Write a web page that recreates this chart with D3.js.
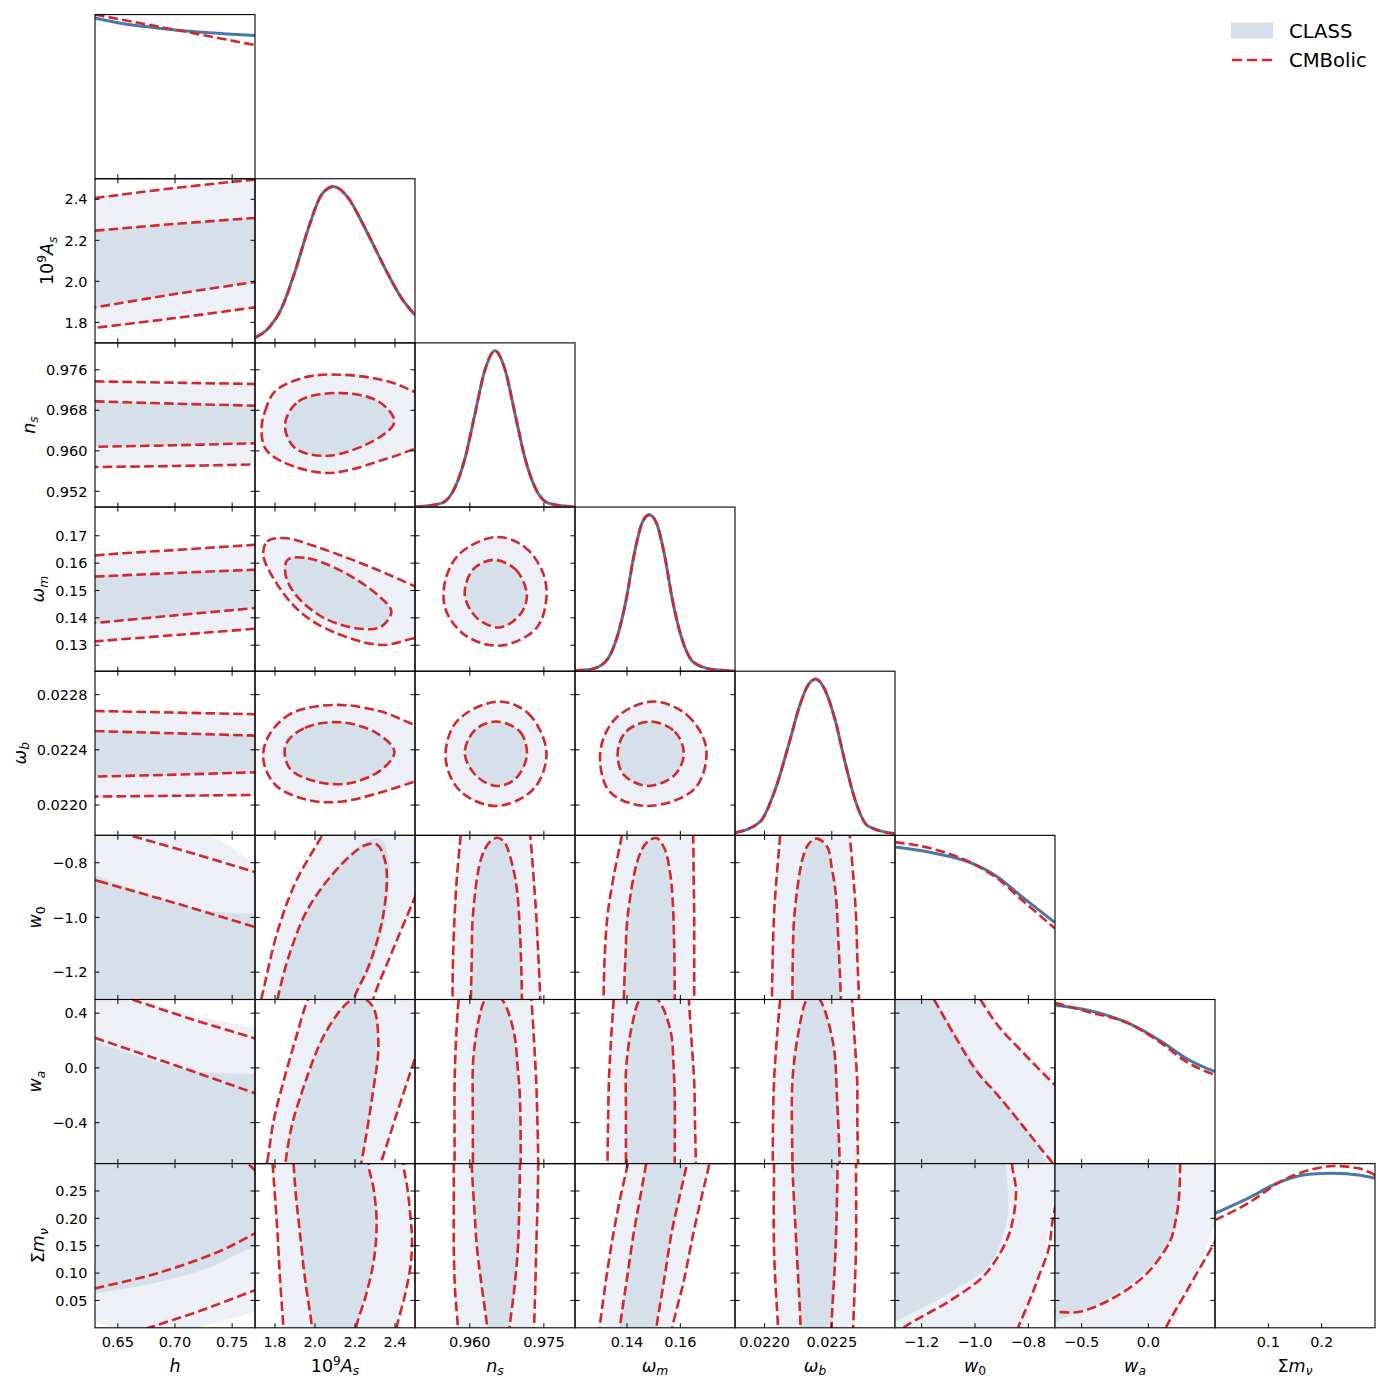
<!DOCTYPE html>
<html><head><meta charset="utf-8">
<script src="https://cdn.jsdelivr.net/npm/d3@7"></script>
<style>body{margin:0;background:#fff}</style>
</head><body>
<script>
// ---------------- DATA ----------------
const paramKeys = ["h","As","ns","omm","omb","w0","wa","mnu"];
const ranges = [[0.63,0.77],[1.7,2.5],[0.9489,0.9813],[0.1205,0.1805],[0.02178,0.02297],[-1.3,-0.7],[-0.7,0.5],[0,0.3]];
const xTicks = [[0.65,0.70,0.75],[1.8,2.0,2.2,2.4],[0.960,0.975],[0.14,0.16],[0.0220,0.0225],[-1.2,-1.0,-0.8],[-0.5,0.0],[0.1,0.2]];
const xTickLabels = [["0.65","0.70","0.75"],["1.8","2.0","2.2","2.4"],["0.960","0.975"],["0.14","0.16"],["0.0220","0.0225"],["\u22121.2","\u22121.0","\u22120.8"],["\u22120.5","0.0"],["0.1","0.2"]];
const yTicks = [[],[1.8,2.0,2.2,2.4],[0.952,0.960,0.968,0.976],[0.13,0.14,0.15,0.16,0.17],[0.0220,0.0224,0.0228],[-1.2,-1.0,-0.8],[-0.4,0.0,0.4],[0.05,0.10,0.15,0.20,0.25]];
const yTickLabels = [[],["1.8","2.0","2.2","2.4"],["0.952","0.960","0.968","0.976"],["0.13","0.14","0.15","0.16","0.17"],["0.0220","0.0224","0.0228"],["\u22121.2","\u22121.0","\u22120.8"],["\u22120.4","0.0","0.4"],["0.05","0.10","0.15","0.20","0.25"]];
const axisLabels = [
  [["h","i"]],
  [["10",""],["9","sup"],["A","i"],["s","isub"]],
  [["n","i"],["s","isub"]],
  [["\u03c9","i"],["m","isub"]],
  [["\u03c9","i"],["b","isub"]],
  [["w","i"],["0","sub"]],
  [["w","i"],["a","isub"]],
  [["\u03a3",""],["m","i"],["\u03bd","isub"]]
];
const legendLabels = ["CLASS","CMBolic"];

// 1D marginals (x values, normalised density)
const h_x = [0.63,0.6548,0.684,0.7131,0.7423,0.77];
const h_class = [1.029,0.992,0.965,0.943,0.928,0.916];
const h_cmb = [1.050,1.016,0.975,0.935,0.894,0.855];
const As_x = [1.7,1.767,1.833,1.90,1.967,2.033,2.092,2.167,2.233,2.30,2.367,2.433,2.5];
const As_p = [0.034,0.094,0.222,0.457,0.734,0.948,1.0,0.926,0.777,0.606,0.435,0.286,0.179];
const ns_x = [0.9489,0.9543,0.9570,0.95903,0.96105,0.96308,0.9651,0.96713,0.96915,0.97118,0.9732,0.9759,0.9813];
const ns_p = [0.0,0.025,0.126,0.312,0.597,0.879,1.0,0.879,0.597,0.312,0.126,0.025,0.0];
const om_x = [0.1205,0.1266,0.1319,0.1365,0.1396,0.1426,0.1457,0.1483,0.1510,0.1541,0.1571,0.1602,0.1648,0.1716,0.1805];
const om_p = [0.004,0.013,0.06,0.23,0.45,0.74,0.95,1.0,0.95,0.74,0.45,0.23,0.06,0.013,0.002];
const ob_x = [0.02178,0.021966,0.022078,0.022189,0.022263,0.022323,0.022382,0.022449,0.022524,0.022598,0.022672,0.022769,0.02297];
const ob_p = [0.017,0.086,0.29,0.61,0.835,0.96,1.0,0.93,0.74,0.47,0.23,0.06,0.01];
const w0_x = [-1.3,-1.1615,-1.0077,-0.9154,-0.8231,-0.7];
const w0_class = [0.975,0.939,0.869,0.784,0.656,0.492];
const w0_cmb = [1.007,0.965,0.869,0.773,0.635,0.454];
const wa_x = [-0.7,-0.4538,-0.1462,0.1,0.2846,0.5];
const wa_class = [1.014,0.982,0.897,0.780,0.673,0.588];
const wa_cmb = [1.029,0.971,0.897,0.769,0.652,0.567];
const mnu_x = [0,0.0615,0.1231,0.1769,0.2231,0.2692,0.3];
const mnu_class = [0.732,0.828,0.935,0.982,0.988,0.977,0.956];
const mnu_cmb = [0.689,0.796,0.935,1.009,1.035,1.02,0.977];

// 2D contours [x, y] in data units (95% and 68%)
const As_h_95 = [[0.60,2.385],[0.63,2.406],[0.70,2.455],[0.77,2.496],[0.80,2.51],[0.80,1.895],[0.77,1.873],[0.70,1.821],[0.63,1.773],[0.60,1.752]];
const As_h_68 = [[0.60,2.233],[0.63,2.247],[0.70,2.28],[0.77,2.309],[0.80,2.321],[0.80,2.022],[0.77,1.997],[0.70,1.938],[0.63,1.873],[0.60,1.845]];
const ns_h_95 = [[0.60,0.9738],[0.63,0.9737],[0.70,0.97345],[0.77,0.97319],[0.80,0.9731],[0.80,0.9574],[0.77,0.9573],[0.70,0.9570],[0.63,0.9568],[0.60,0.9567]];
const ns_h_68 = [[0.60,0.9699],[0.63,0.96975],[0.70,0.9693],[0.77,0.9689],[0.80,0.9687],[0.80,0.9617],[0.77,0.9615],[0.70,0.9611],[0.63,0.9608],[0.60,0.9607]];
const om_h_95 = [[0.60,0.1612],[0.63,0.1628],[0.70,0.1648],[0.77,0.1667],[0.80,0.1675],[0.80,0.1370],[0.77,0.1360],[0.70,0.1337],[0.63,0.1314],[0.60,0.1304]];
const om_h_68 = [[0.60,0.1546],[0.63,0.1551],[0.70,0.1564],[0.77,0.1576],[0.80,0.1581],[0.80,0.1448],[0.77,0.1436],[0.70,0.1409],[0.63,0.1381],[0.60,0.1369]];
const ob_h_95 = [[0.60,0.022687],[0.63,0.022682],[0.70,0.02267],[0.77,0.022658],[0.80,0.022653],[0.80,0.022076],[0.77,0.022073],[0.70,0.022067],[0.63,0.022061],[0.60,0.022058]];
const ob_h_68 = [[0.60,0.022552],[0.63,0.022537],[0.70,0.02252],[0.77,0.022503],[0.80,0.022496],[0.80,0.022244],[0.77,0.022237],[0.70,0.02222],[0.63,0.022206],[0.60,0.0222]];
const w0_h_cmb95 = [[0.60,-0.626],[0.64,-0.675],[0.6605,-0.70],[0.7018,-0.749],[0.77,-0.834],[0.80,-0.871],[0.80,-1.45],[0.60,-1.45]];
const w0_h_cmb68 = [[0.60,-0.828],[0.6336,-0.868],[0.7018,-0.9495],[0.77,-1.035],[0.80,-1.072],[0.80,-1.45],[0.60,-1.45]];
const w0_h_cls95 = [[0.60,-0.55],[0.70,-0.64],[0.74,-0.72],[0.77,-0.80],[0.80,-0.85],[0.80,-1.45],[0.60,-1.45]];
const w0_h_cls68 = [[0.60,-0.80],[0.63,-0.846],[0.666,-0.901],[0.702,-0.95],[0.738,-0.98],[0.77,-0.986],[0.80,-0.99],[0.80,-1.45],[0.60,-1.45]];
const wa_h_cmb95 = [[0.60,0.66],[0.64,0.56],[0.6623,0.5],[0.7126,0.3613],[0.77,0.2152],[0.80,0.136],[0.80,-0.9],[0.60,-0.9]];
const wa_h_cmb68 = [[0.60,0.31],[0.63,0.22],[0.70,0.02],[0.77,-0.185],[0.80,-0.27],[0.80,-0.9],[0.60,-0.9]];
const wa_h_cls95 = [[0.62,0.66],[0.645,0.56],[0.666,0.5],[0.72,0.38],[0.77,0.295],[0.80,0.25],[0.80,-0.9],[0.60,-0.9]];
const wa_h_cls68 = [[0.60,0.27],[0.63,0.19],[0.684,0.045],[0.723,-0.028],[0.77,-0.045],[0.80,-0.048],[0.80,-0.9],[0.60,-0.9]];
const m_h_cmb95 = [[0.60,-0.05],[0.64,-0.025],[0.6767,0.0],[0.7197,0.0293],[0.77,0.0689],[0.80,0.092],[0.80,0.23],[0.78,0.268],[0.77,0.288],[0.7639,0.30],[0.755,0.318],[0.60,0.45]];
const m_h_cmb68 = [[0.60,0.057],[0.63,0.072],[0.684,0.0994],[0.738,0.139],[0.77,0.1726],[0.80,0.205],[0.80,0.45],[0.60,0.45]];
const m_h_cls95 = [[0.60,0.03],[0.63,0.011],[0.648,0.0],[0.70,-0.01],[0.74,0.012],[0.77,0.03],[0.80,0.05],[0.80,0.45],[0.60,0.45]];
const m_h_cls68 = [[0.60,0.055],[0.63,0.0628],[0.684,0.083],[0.73,0.11],[0.75,0.13],[0.77,0.148],[0.80,0.17],[0.80,0.45],[0.60,0.45]];

const ns_As_95 = [[1.733,0.9646],[1.75,0.96778],[1.80,0.97173],[1.95,0.9745],[2.133,0.97502],[2.367,0.9737],[2.5,0.97161],[2.6,0.9700],[2.66,0.966],[2.6,0.9618],[2.5,0.96042],[2.367,0.95858],[2.067,0.95562],[1.833,0.95791],[1.75,0.96055]];
const ns_As_68 = [[1.85,0.96515],[1.917,0.96975],[2.117,0.97141],[2.317,0.96975],[2.397,0.96581],[2.317,0.96253],[2.067,0.95903],[1.90,0.96055]];
const om_As_95 = [[1.741,0.1631],[1.761,0.1679],[1.842,0.1692],[2.026,0.1655],[2.29,0.1582],[2.5,0.1515],[2.6,0.148],[2.66,0.141],[2.6,0.1335],[2.5,0.1326],[2.331,0.1301],[2.087,0.1350],[1.924,0.1423],[1.802,0.1533]];
const om_As_68 = [[1.863,0.1612],[1.965,0.1618],[2.168,0.1557],[2.331,0.1472],[2.382,0.1423],[2.331,0.1368],[2.229,0.1360],[2.046,0.1399],[1.904,0.1484],[1.853,0.1557]];
const ob_As_95 = [[2.107,0.022726],[1.883,0.022665],[1.771,0.022508],[1.741,0.022339],[1.802,0.022145],[1.965,0.022036],[2.127,0.022024],[2.331,0.022092],[2.5,0.022169],[2.6,0.0222],[2.66,0.02238],[2.6,0.02255],[2.5,0.022581],[2.331,0.022677]];
const ob_As_68 = [[2.127,0.0226],[1.944,0.022556],[1.853,0.022435],[1.873,0.022266],[2.005,0.02217],[2.168,0.022157],[2.331,0.022254],[2.397,0.022387],[2.31,0.02252]];
const w0_As_95 = [[1.69,-1.42],[1.731,-1.3],[1.812,-1.053],[1.904,-0.870],[2.036,-0.7],[2.12,-0.59],[2.8,-0.55],[2.6,-0.746],[2.5,-0.925],[2.392,-1.114],[2.29,-1.3],[2.25,-1.42]];
const w0_As_cmb68 = [[1.78,-1.42],[1.812,-1.3],[1.87,-1.14],[1.965,-0.968],[2.127,-0.810],[2.25,-0.7365],[2.31,-0.734],[2.355,-0.810],[2.341,-0.992],[2.270,-1.175],[2.193,-1.3],[2.16,-1.42]];
const w0_As_cls68 = [[1.78,-1.42],[1.812,-1.3],[1.87,-1.14],[1.965,-0.968],[2.127,-0.80],[2.25,-0.725],[2.33,-0.715],[2.368,-0.79],[2.355,-0.99],[2.28,-1.18],[2.20,-1.3],[2.17,-1.42]];
const wa_As_95 = [[1.74,-0.8],[1.761,-0.685],[1.792,-0.393],[1.842,-0.101],[1.904,0.215],[1.965,0.5],[2.02,0.63],[2.8,0.63],[2.6,0.515],[2.5,0.0692],[2.412,-0.32],[2.331,-0.685],[2.30,-0.8]];
const wa_As_68 = [[1.84,-0.85],[1.853,-0.685],[1.88,-0.45],[1.924,-0.223],[2.046,0.2395],[2.168,0.483],[2.23,0.515],[2.29,0.446],[2.317,0.167],[2.290,-0.174],[2.233,-0.685],[2.21,-0.85]];
const m_As_95 = [[1.78,0.36],[1.788,0.3],[1.80,0.24],[1.812,0.1756],[1.825,0.09],[1.842,0.0],[1.85,-0.05],[2.39,-0.05],[2.408,0.0],[2.45,0.06],[2.478,0.1146],[2.485,0.16],[2.478,0.2],[2.46,0.26],[2.443,0.2945],[2.43,0.36]];
const m_As_68 = [[1.885,0.36],[1.893,0.3],[1.905,0.24],[1.924,0.1756],[1.95,0.09],[1.985,0.0],[1.995,-0.05],[2.19,-0.05],[2.205,0.0],[2.255,0.06],[2.290,0.1146],[2.305,0.16],[2.307,0.2061],[2.29,0.26],[2.270,0.2915],[2.25,0.36]];

const om_ns_95 = [[0.96518,0.16952],[0.97097,0.1661],[0.97469,0.1570],[0.97551,0.1472],[0.97345,0.1362],[0.96642,0.1299],[0.95940,0.1332],[0.95526,0.1423],[0.95485,0.1521],[0.95774,0.1631]];
const om_ns_68 = [[0.96477,0.1612],[0.96932,0.1576],[0.97155,0.1484],[0.97015,0.1411],[0.96601,0.1365],[0.96146,0.1399],[0.95898,0.1484],[0.96063,0.1576]];
const ob_ns_95 = [[0.96560,0.022750],[0.97180,0.022665],[0.97551,0.022387],[0.97303,0.022121],[0.96560,0.021993],[0.95816,0.022097],[0.95510,0.022339],[0.95733,0.022605]];
const ob_ns_68 = [[0.96535,0.022605],[0.97015,0.022532],[0.97155,0.022363],[0.96932,0.022193],[0.96560,0.022138],[0.96146,0.022206],[0.95898,0.022375],[0.96105,0.022544]];
const w0_ns_95 = [[0.9587,-0.62],[0.95816,-0.7],[0.9574,-0.85],[0.95692,-0.992],[0.9566,-1.15],[0.9565,-1.3],[0.9565,-1.42],[0.9744,-1.42],[0.97427,-1.3],[0.9739,-1.15],[0.97345,-0.992],[0.9729,-0.85],[0.97221,-0.7],[0.9715,-0.62],[0.965,-0.57]];
const w0_ns_68 = [[0.9602,-1.42],[0.96022,-1.3],[0.9604,-1.15],[0.96063,-0.992],[0.96229,-0.785],[0.9640,-0.725],[0.9656,-0.709],[0.9670,-0.725],[0.96766,-0.749],[0.96932,-0.870],[0.97015,-1.053],[0.97056,-1.3],[0.9706,-1.42]];
const wa_ns_95 = [[0.9582,0.62],[0.95774,0.5],[0.9572,0.2],[0.95692,-0.101],[0.9569,-0.4],[0.95692,-0.685],[0.9569,-0.85],[0.9739,-0.85],[0.97386,-0.685],[0.9737,-0.4],[0.97345,-0.101],[0.9730,0.2],[0.97246,0.5],[0.9720,0.62]];
const wa_ns_68 = [[0.9606,-0.85],[0.96063,-0.685],[0.9606,-0.3],[0.96063,0.0205],[0.9611,0.2],[0.96187,0.3613],[0.96311,0.5],[0.9650,0.54],[0.96683,0.483],[0.96890,0.264],[0.9697,0.0],[0.97015,-0.223],[0.97031,-0.685],[0.9703,-0.85]];
const m_ns_95 = [[0.95675,0.36],[0.95675,0.3],[0.95675,0.22],[0.95675,0.1451],[0.9570,0.07],[0.95758,0.0],[0.9577,-0.05],[0.9730,-0.05],[0.97303,0.0],[0.97325,0.07],[0.97345,0.1451],[0.9737,0.22],[0.97386,0.3],[0.9739,0.36]];
const m_ns_68 = [[0.96039,0.36],[0.96039,0.3],[0.9609,0.22],[0.96146,0.1451],[0.9625,0.07],[0.96352,0.0],[0.9637,-0.05],[0.9679,-0.05],[0.96807,0.0],[0.9690,0.07],[0.96973,0.1451],[0.9700,0.22],[0.97015,0.3],[0.9702,0.36]];

const ob_om_95 = [[0.1495,0.022750],[0.1625,0.022653],[0.1697,0.022411],[0.1655,0.022121],[0.1480,0.021993],[0.1335,0.022097],[0.1300,0.022387],[0.1358,0.022629]];
const ob_om_68 = [[0.1487,0.022605],[0.1579,0.022532],[0.1613,0.022375],[0.1579,0.022218],[0.1480,0.022138],[0.1388,0.022218],[0.1365,0.022375],[0.1396,0.022532]];
const w0_om_95 = [[0.1395,-0.62],[0.1381,-0.7],[0.1350,-0.85],[0.1327,-0.992],[0.1316,-1.15],[0.1312,-1.3],[0.131,-1.42],[0.1652,-1.42],[0.1652,-1.3],[0.1652,-1.15],[0.1652,-0.992],[0.1650,-0.85],[0.1648,-0.7],[0.1645,-0.62],[0.152,-0.57]];
const w0_om_68 = [[0.1388,-1.42],[0.1388,-1.3],[0.1394,-1.15],[0.1403,-0.992],[0.1442,-0.785],[0.1475,-0.725],[0.1510,-0.710],[0.1541,-0.749],[0.1562,-0.84],[0.1571,-0.931],[0.1577,-1.1],[0.1579,-1.3],[0.1579,-1.42]];
const wa_om_95 = [[0.1353,0.62],[0.1350,0.5],[0.1340,0.2],[0.1332,-0.101],[0.1329,-0.4],[0.1327,-0.685],[0.1327,-0.85],[0.1658,-0.85],[0.1658,-0.685],[0.1655,-0.4],[0.1652,-0.101],[0.1642,0.2],[0.1632,0.5],[0.1628,0.62]];
const wa_om_68 = [[0.1396,-0.85],[0.1396,-0.685],[0.1396,-0.3],[0.1396,-0.028],[0.1405,0.15],[0.1419,0.3126],[0.1449,0.5],[0.149,0.54],[0.1526,0.4708],[0.1564,0.264],[0.1575,0.0],[0.1579,-0.223],[0.1579,-0.685],[0.1579,-0.85]];
const m_om_95 = [[0.1425,0.36],[0.1403,0.3],[0.1376,0.24],[0.1350,0.1756],[0.1322,0.09],[0.1297,0.0],[0.1285,-0.05],[0.1555,-0.05],[0.157,0.0],[0.1615,0.09],[0.1650,0.1756],[0.1680,0.24],[0.1709,0.3],[0.173,0.36]];
const m_om_68 = [[0.1495,0.36],[0.1472,0.3],[0.1450,0.24],[0.1426,0.1756],[0.1400,0.09],[0.1373,0.0],[0.1362,-0.05],[0.1497,-0.05],[0.151,0.0],[0.1540,0.09],[0.1568,0.1756],[0.1597,0.24],[0.1625,0.3],[0.1650,0.36]];

const w0_ob_95 = [[0.02213,-0.62],[0.022116,-0.7],[0.02209,-0.85],[0.022070,-0.992],[0.02206,-1.15],[0.022055,-1.3],[0.022055,-1.42],[0.022702,-1.42],[0.022702,-1.3],[0.02269,-1.15],[0.022680,-0.992],[0.02266,-0.85],[0.022634,-0.7],[0.02262,-0.62],[0.02238,-0.57]];
const w0_ob_68 = [[0.022207,-1.42],[0.022207,-1.3],[0.02221,-1.15],[0.022222,-0.992],[0.022283,-0.785],[0.02233,-0.73],[0.022390,-0.712],[0.022467,-0.743],[0.02250,-0.82],[0.022528,-0.907],[0.02255,-1.1],[0.022567,-1.3],[0.022567,-1.42]];
const wa_ob_95 = [[0.02213,0.62],[0.022116,0.5],[0.02209,0.2],[0.022070,-0.101],[0.022063,-0.4],[0.022061,-0.685],[0.02206,-0.85],[0.022695,-0.85],[0.022695,-0.685],[0.02269,-0.4],[0.022689,-0.101],[0.02267,0.2],[0.022650,0.5],[0.02264,0.62]];
const wa_ob_68 = [[0.022207,-0.85],[0.022207,-0.685],[0.022207,-0.101],[0.022253,0.264],[0.022314,0.5],[0.02237,0.54],[0.022421,0.483],[0.022512,0.1666],[0.02254,-0.25],[0.022558,-0.685],[0.022558,-0.85]];
const m_ob_95 = [[0.02207,0.36],[0.02207,0.3],[0.02207,0.1451],[0.0221,0.0],[0.02211,-0.05],[0.022655,-0.05],[0.022659,0.0],[0.02268,0.1451],[0.02268,0.3],[0.02268,0.36]];
const m_ob_68 = [[0.022207,0.36],[0.022207,0.3],[0.022238,0.1451],[0.022268,0.0],[0.02227,-0.05],[0.022495,-0.05],[0.022497,0.0],[0.022528,0.1451],[0.022543,0.3],[0.022543,0.36]];

const wa_w0_cmb95 = [[-1.02,0.62],[-0.98,0.5],[-0.9154,0.3126],[-0.8231,0.118],[-0.7,-0.126],[-0.66,-0.2],[-0.6,-0.8],[-1.4,-0.8],[-1.4,0.62]];
const wa_w0_cmb68 = [[-1.19,0.62],[-1.1538,0.5],[-1.0846,0.264],[-0.9923,-0.028],[-0.9154,-0.198],[-0.8231,-0.418],[-0.7538,-0.588],[-0.7077,-0.7],[-0.68,-0.8],[-1.4,-0.8],[-1.4,0.62]];
const wa_w0_cls95 = [[-1.0,0.62],[-0.9615,0.5],[-0.90,0.3126],[-0.8077,0.118],[-0.7154,-0.052],[-0.68,-0.1],[-0.6,-0.8],[-1.4,-0.8],[-1.4,0.62]];
const wa_w0_cls68 = [[-1.18,0.62],[-1.146,0.5],[-1.069,0.25],[-0.98,-0.03],[-0.925,-0.16],[-0.85,-0.33],[-0.78,-0.52],[-0.73,-0.70],[-0.71,-0.8],[-1.4,-0.8],[-1.4,0.62]];
const m_w0_cmb95 = [[-1.4,0.36],[-0.6,0.36],[-0.6,0.3],[-0.68,0.25],[-0.7077,0.2],[-0.7231,0.1451],[-0.76,0.095],[-0.7923,0.0537],[-0.8385,0.0],[-0.86,-0.03],[-1.4,-0.03]];
const m_w0_cmb68 = [[-0.86,0.36],[-0.8615,0.3],[-0.8462,0.2488],[-0.8692,0.1756],[-0.92,0.125],[-0.9769,0.0902],[-1.10,0.0476],[-1.2538,0.0049],[-1.35,-0.03],[-1.4,-0.03],[-1.4,0.36]];
const m_w0_cls95 = [[-1.4,0.36],[-0.6,0.36],[-0.6,0.32],[-0.7,0.2366],[-0.73,0.16],[-0.7615,0.0842],[-0.8154,0.0],[-0.83,-0.03],[-1.4,-0.03]];
const m_w0_cls68 = [[-0.885,0.36],[-0.8846,0.3],[-0.8769,0.206],[-0.9462,0.1146],[-1.0692,0.072],[-1.1769,0.0415],[-1.3,0.011],[-1.35,0.0],[-1.4,0.0],[-1.4,0.36]];
const m_wa_cmb95 = [[-0.8,0.36],[0.6,0.36],[0.6,0.2],[0.5,0.1573],[0.2846,0.0659],[0.1308,0.0],[0.08,-0.03],[-0.8,-0.03]];
const m_wa_cmb68 = [[0.24,0.36],[0.2385,0.3],[0.2292,0.2366],[0.20,0.19],[0.1615,0.1573],[-0.0231,0.0963],[-0.2692,0.0537],[-0.5154,0.0293],[-0.7,0.0293],[-0.8,0.03],[-0.8,0.36]];
const m_wa_cls95 = [[-0.8,0.36],[0.6,0.36],[0.6,0.23],[0.5,0.1878],[0.3462,0.0842],[0.1769,0.0],[0.15,-0.03],[-0.8,-0.03]];
const m_wa_cls68 = [[0.207,0.36],[0.2077,0.3],[0.2231,0.2061],[0.1308,0.1451],[-0.0846,0.0902],[-0.3923,0.0415],[-0.7,0.011],[-0.8,0.0],[-0.8,0.36]];

// table of panels built from the arrays above: [row, col, CLASS95, CLASS68, CMBolic95, CMBolic68]
const panels2D = [
  [1,0,As_h_95,As_h_68,As_h_95,As_h_68],
  [2,0,ns_h_95,ns_h_68,ns_h_95,ns_h_68],
  [3,0,om_h_95,om_h_68,om_h_95,om_h_68],
  [4,0,ob_h_95,ob_h_68,ob_h_95,ob_h_68],
  [5,0,w0_h_cls95,w0_h_cls68,w0_h_cmb95,w0_h_cmb68],
  [6,0,wa_h_cls95,wa_h_cls68,wa_h_cmb95,wa_h_cmb68],
  [7,0,m_h_cls95,m_h_cls68,m_h_cmb95,m_h_cmb68],
  [2,1,ns_As_95,ns_As_68,ns_As_95,ns_As_68],
  [3,1,om_As_95,om_As_68,om_As_95,om_As_68],
  [4,1,ob_As_95,ob_As_68,ob_As_95,ob_As_68],
  [5,1,w0_As_95,w0_As_cls68,w0_As_95,w0_As_cmb68],
  [6,1,wa_As_95,wa_As_68,wa_As_95,wa_As_68],
  [7,1,m_As_95,m_As_68,m_As_95,m_As_68],
  [3,2,om_ns_95,om_ns_68,om_ns_95,om_ns_68],
  [4,2,ob_ns_95,ob_ns_68,ob_ns_95,ob_ns_68],
  [5,2,w0_ns_95,w0_ns_68,w0_ns_95,w0_ns_68],
  [6,2,wa_ns_95,wa_ns_68,wa_ns_95,wa_ns_68],
  [7,2,m_ns_95,m_ns_68,m_ns_95,m_ns_68],
  [4,3,ob_om_95,ob_om_68,ob_om_95,ob_om_68],
  [5,3,w0_om_95,w0_om_68,w0_om_95,w0_om_68],
  [6,3,wa_om_95,wa_om_68,wa_om_95,wa_om_68],
  [7,3,m_om_95,m_om_68,m_om_95,m_om_68],
  [5,4,w0_ob_95,w0_ob_68,w0_ob_95,w0_ob_68],
  [6,4,wa_ob_95,wa_ob_68,wa_ob_95,wa_ob_68],
  [7,4,m_ob_95,m_ob_68,m_ob_95,m_ob_68],
  [6,5,wa_w0_cls95,wa_w0_cls68,wa_w0_cmb95,wa_w0_cmb68],
  [7,5,m_w0_cls95,m_w0_cls68,m_w0_cmb95,m_w0_cmb68],
  [7,6,m_wa_cls95,m_wa_cls68,m_wa_cmb95,m_wa_cmb68]
];
const panels1D = [
  [0,h_x,h_class,h_cmb],
  [1,As_x,As_p,As_p],
  [2,ns_x,ns_p,ns_p],
  [3,om_x,om_p,om_p],
  [4,ob_x,ob_p,ob_p],
  [5,w0_x,w0_class,w0_cmb],
  [6,wa_x,wa_class,wa_cmb],
  [7,mnu_x,mnu_class,mnu_cmb]
];

// ---------------- DRAWING ----------------
const W = 160, H = 164.15, X0 = 95, Y0 = 14.6;
const colDark = "#d6e0eb", colLight = "#edf1f7", colBlue = "#4a77aa", colRed = "#d62728";
const dash = "9.6,4.2", redW = 2.6;
const tickFS = 14.5, labFS = 17.5, legFS = 19.6;

const svg = d3.select("body").append("svg")
  .attr("width",1385).attr("height",1378)
  .style("font-family","'DejaVu Sans', sans-serif");
svg.append("rect").attr("width",1385).attr("height",1378).attr("fill","#fff");
svg.append("defs").append("clipPath").attr("id","pclip")
  .append("rect").attr("width",W).attr("height",H);

const xS = ranges.map(r => d3.scaleLinear().domain(r).range([0,W]));
const yS = ranges.map(r => d3.scaleLinear().domain(r).range([H,0]));
const pS = d3.scaleLinear().domain([0,1.05]).range([H,0]);

function panel(r,c){ return svg.append("g").attr("transform",`translate(${X0+c*W},${Y0+r*H})`); }

function ticks(g,r,c,diag){
  const xs = xS[c], ys = yS[r];
  xTicks[c].forEach(v => {
    g.append("line").attr("x1",xs(v)).attr("x2",xs(v)).attr("y1",H).attr("y2",H-4.5).attr("stroke","#000").attr("stroke-width",1);
    if(!diag) g.append("line").attr("x1",xs(v)).attr("x2",xs(v)).attr("y1",0).attr("y2",4.5).attr("stroke","#000").attr("stroke-width",1);
  });
  if(!diag) yTicks[r].forEach(v => {
    g.append("line").attr("x1",0).attr("x2",4.5).attr("y1",ys(v)).attr("y2",ys(v)).attr("stroke","#000").attr("stroke-width",1);
    g.append("line").attr("x1",W).attr("x2",W-4.5).attr("y1",ys(v)).attr("y2",ys(v)).attr("stroke","#000").attr("stroke-width",1);
  });
  if(r===7){
    xTicks[c].forEach((v,k) => g.append("text").attr("x",xs(v)).attr("y",H+19.4)
      .attr("text-anchor","middle").attr("font-size",tickFS).attr("fill","#000").text(xTickLabels[c][k]));
  }
  if(c===0 && r>0){
    yTicks[r].forEach((v,k) => g.append("text").attr("x",-7.5).attr("y",ys(v)+5.2)
      .attr("text-anchor","end").attr("font-size",tickFS).attr("fill","#000").text(yTickLabels[r][k]));
  }
  g.append("rect").attr("width",W).attr("height",H).attr("fill","none").attr("stroke","#000").attr("stroke-width",1.1);
}

// 2D panels
panels2D.forEach(([r,c,c95,c68,m95,m68]) => {
  const g = panel(r,c);
  const line = d3.line().x(d=>xS[c](d[0])).y(d=>yS[r](d[1])).curve(d3.curveCatmullRomClosed.alpha(0.5));
  const cg = g.append("g").attr("clip-path","url(#pclip)");
  cg.append("path").attr("d",line(c95)).attr("fill",colLight);
  cg.append("path").attr("d",line(c68)).attr("fill",colDark);
  cg.append("path").attr("d",line(m95)).attr("fill","none").attr("stroke",colRed).attr("stroke-width",redW).attr("stroke-dasharray",dash);
  cg.append("path").attr("d",line(m68)).attr("fill","none").attr("stroke",colRed).attr("stroke-width",redW).attr("stroke-dasharray",dash);
  ticks(g,r,c,false);
});

// 1D panels
panels1D.forEach(([k,xv,pc,pm]) => {
  const g = panel(k,k);
  const line = d3.line().x(d=>xS[k](d[0])).y(d=>pS(d[1])).curve(d3.curveMonotoneX);
  const cg = g.append("g").attr("clip-path","url(#pclip)");
  cg.append("path").attr("d",line(d3.zip(xv,pc))).attr("fill","none").attr("stroke",colBlue).attr("stroke-width",3);
  cg.append("path").attr("d",line(d3.zip(xv,pm))).attr("fill","none").attr("stroke",colRed).attr("stroke-width",redW).attr("stroke-dasharray",dash);
  ticks(g,k,k,true);
});

// math-style label helper
function mathText(sel, parts, size){
  let cur = 0;
  parts.forEach(([t,st]) => {
    let target = 0, fs = size;
    if(st.includes("sub")){ target = 0.2*size; fs = 0.7*size; }
    if(st.includes("sup")){ target = -0.4*size; fs = 0.7*size; }
    sel.append("tspan").attr("dy",(target-cur).toFixed(2)).attr("font-size",fs)
      .attr("font-style", st.startsWith("i") ? "italic" : "normal").text(t);
    cur = target;
  });
}

// x labels
axisLabels.forEach((parts,c) => {
  const t = svg.append("text").attr("x",X0+c*W+W/2).attr("y",1371.5).attr("text-anchor","middle").attr("fill","#000").attr("font-size",labFS);
  mathText(t,parts,labFS);
});
// y labels (rows 1..7) placed left of the tick labels
for(let r=1;r<8;r++){
  let maxW = 0;
  yTickLabels[r].forEach(s => {
    const tmp = svg.append("text").attr("font-size",tickFS).text(s);
    maxW = Math.max(maxW, tmp.node().getComputedTextLength());
    tmp.remove();
  });
  const xb = X0 - 7.5 - maxW - 11;
  const yc = Y0 + r*H + H/2;
  const t = svg.append("text").attr("transform",`translate(${xb},${yc}) rotate(-90)`).attr("text-anchor","middle").attr("fill","#000").attr("font-size",labFS);
  mathText(t,axisLabels[r],labFS);
}

// legend
svg.append("rect").attr("x",1231).attr("y",22.5).attr("width",42).attr("height",16).attr("fill",colDark);
svg.append("text").attr("x",1289).attr("y",38.3).attr("font-size",legFS).attr("fill","#000").text(legendLabels[0]);
svg.append("line").attr("x1",1232).attr("x2",1272).attr("y1",60).attr("y2",60).attr("stroke",colRed).attr("stroke-width",redW).attr("stroke-dasharray","10,5");
svg.append("text").attr("x",1289).attr("y",66.7).attr("font-size",legFS).attr("fill","#000").text(legendLabels[1]);
</script>
</body></html>
